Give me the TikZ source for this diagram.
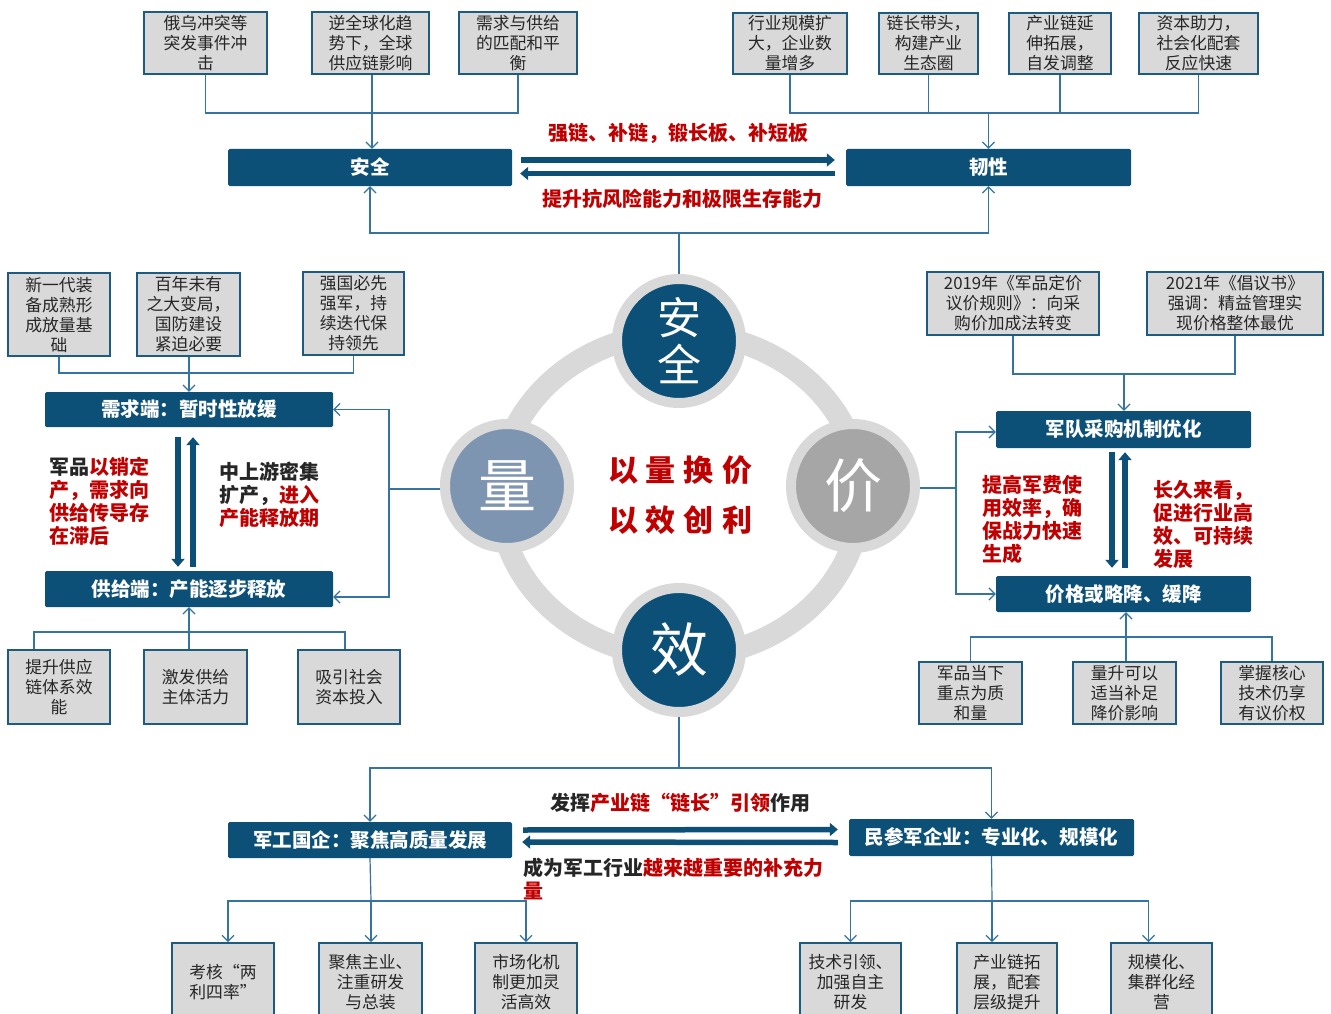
\documentclass[tikz,border=0pt]{standalone}
\usepackage{fontspec}
\setmainfont{Noto Sans CJK SC}
\usetikzlibrary{arrows.meta,calc}
\definecolor{barblue}{HTML}{0C5078}
\definecolor{boxborder}{HTML}{1D5B80}
\definecolor{boxgray}{HTML}{D9D9D9}
\definecolor{linecol}{HTML}{3574A0}
\definecolor{ired}{HTML}{C00000}
\definecolor{textdark}{HTML}{262626}
\definecolor{ringgray}{HTML}{D9D9D9}
\definecolor{liangcol}{HTML}{7E95B1}
\definecolor{jiacol}{HTML}{A6A6A6}
\newcommand{\rd}[1]{\textcolor{ired}{#1}}
\begin{document}
\begin{tikzpicture}[x=1pt,y=-1pt,
  gbox/.style={draw=boxborder, line width=1.8pt, fill=boxgray, text=textdark, align=center, inner sep=0pt, font=\fontsize{16.8}{20}\selectfont},
  bar/.style={fill=barblue, text=white, inner sep=0pt, rounded corners=1.5pt, font=\bfseries\fontsize{19.5}{22}\selectfont},
  conn/.style={draw=linecol, line width=1.2pt},
  arr/.style={-{Straight Barb[length=6pt,width=12pt]}},
  both/.style={{Straight Barb[length=6pt,width=12pt]}-{Straight Barb[length=6pt,width=12pt]}},
  fat/.style={draw=barblue, line width=5.5pt, -{Triangle[length=8pt,width=13pt]}},
  redt/.style={text=ired, font=\bfseries\fontsize{20}{23}\selectfont, inner sep=0pt},
  mixt/.style={text=textdark, font=\bfseries\fontsize{20}{23}\selectfont, inner sep=0pt, align=left},
  bigc/.style={circle, minimum size=124pt, draw=ringgray, line width=10pt, text=white, inner sep=0pt}
]
\useasboundingbox (0,0) rectangle (1331,1014);
\fill[white] (0,0) rectangle (1331,1014);

% ---------- central ring ----------
\draw[ringgray, line width=22pt] (680,495) ellipse [x radius=181pt, y radius=162pt];
\node[bigc, fill=barblue, font=\fontsize{44}{47}\selectfont, align=center] (aqc) at (679,341) {安\\全};
\node[bigc, fill=liangcol, font=\fontsize{58}{60}\selectfont] (lc) at (507,486) {量};
\node[bigc, fill=jiacol, font=\fontsize{58}{60}\selectfont] (jc) at (853,486) {价};
\node[bigc, fill=barblue, font=\fontsize{58}{60}\selectfont] (xc) at (679,650) {效};
\node[text=ired, font=\bfseries\fontsize{30}{50}\selectfont, align=center] (ctr) at (680,495)
  {以\hspace{8pt}量\hspace{8pt}换\hspace{8pt}价\\以\hspace{8pt}效\hspace{8pt}创\hspace{8pt}利};

% ---------- top ----------
\node[gbox, minimum width=123pt, minimum height=62pt] (a1) at (205.5,43) {俄乌冲突等\\突发事件冲\\击};
\node[gbox, minimum width=117pt, minimum height=62pt] (a2) at (370.5,43) {逆全球化趋\\势下，全球\\供应链影响};
\node[gbox, minimum width=118pt, minimum height=62pt] (a3) at (518,43) {需求与供给\\的匹配和平\\衡};
\node[bar, minimum width=284pt, minimum height=37pt] (aq) at (370,167.5) {安全};
\node[bar, minimum width=285pt, minimum height=37pt] (rx) at (988.5,167.5) {韧性};
\node[gbox, minimum width=114pt, minimum height=61pt] (b1) at (790,43.5) {行业规模扩\\大，企业数\\量增多};
\node[gbox, minimum width=99pt, minimum height=61pt] (b2) at (928.5,43.5) {链长带头，\\构建产业\\生态圈};
\node[gbox, minimum width=102pt, minimum height=61pt] (b3) at (1060,43.5) {产业链延\\伸拓展，\\自发调整};
\node[gbox, minimum width=119pt, minimum height=61pt] (b4) at (1198.5,43.5) {资本助力，\\社会化配套\\反应快速};
\node[redt] (t1) at (678,133) {强链、补链，锻长板、补短板};
\node[redt] (t2) at (682,199) {提升抗风险能力和极限生存能力};

\coordinate (ja) at (372,113);
\coordinate (jb) at (988.5,113);
\draw[conn] (a1.south) |- (ja) -| (a3.south);
\draw[conn,arr] (a2.south -| ja) -- (aq.north -| ja);
\draw[conn] (b1.south) |- (jb);
\draw[conn] (b4.south) |- (jb);
\draw[conn] (b2.south) -- (b2.south |- jb);
\draw[conn] (b3.south) -- (b3.south |- jb);
\draw[conn,arr] (jb) -- (rx.north);
\draw[fat] ([shift={(9pt,7.5pt)}]aq.east) -- ([shift={(-11pt,7.5pt)}]rx.west);
\draw[fat] ([shift={(-11pt,-6pt)}]rx.west) -- ([shift={(8pt,-6pt)}]aq.east);
\coordinate (jt) at (679,233);
\draw[conn,both] (aq.south) |- (jt) -| (rx.south);
\draw[conn] (aqc.north) -- (jt);

% ---------- left middle ----------
\node[gbox, minimum width=102pt, minimum height=83pt] (c1) at (59,314.5) {新一代装\\备成熟形\\成放量基\\础};
\node[gbox, minimum width=103pt, minimum height=83pt] (c2) at (188.5,314.5) {百年未有\\之大变局，\\国防建设\\紧迫必要};
\node[gbox, minimum width=101pt, minimum height=83pt] (c3) at (353.5,313.5) {强国必先\\强军，持\\续迭代保\\持领先};
\node[bar, minimum width=288pt, minimum height=35pt] (xq) at (189,409.5) {需求端：暂时性放缓};
\node[bar, minimum width=288pt, minimum height=36pt] (gj) at (189,589) {供给端：产能逐步释放};
\coordinate (jc1) at (189,373);
\draw[conn] (c1.south) |- (jc1) -| (c3.south);
\draw[conn,arr] (c2.south -| jc1) -- (xq.north);
\draw[fat] ([shift={(-11pt,-10pt)}]xq.south) -- ([shift={(-11pt,4pt)}]gj.north);
\draw[fat] ([shift={(4pt,4pt)}]gj.north) -- ([shift={(4pt,-10pt)}]xq.south);
\node[mixt, anchor=west] (lt1) at (49,501) {军品\rd{以销定}\\\rd{产，需求向}\\\rd{供给传导存}\\\rd{在滞后}};
\node[mixt, anchor=west] (lt2) at (219,495) {中上游密集\\扩产，\rd{进入}\\\rd{产能释放期}};
\coordinate (jl) at (389,489);
\draw[conn] (lc.west |- jl) -- (jl);
\draw[conn,arr] (jl) |- (xq.east);
\draw[conn,arr] (jl) |- ([yshift=-8pt]gj.east);
\node[gbox, minimum width=102pt, minimum height=74pt] (d1) at (59,687) {提升供应\\链体系效\\能};
\node[gbox, minimum width=103pt, minimum height=74pt] (d2) at (195.5,687) {激发供给\\主体活力};
\node[gbox, minimum width=102pt, minimum height=74pt] (d3) at (349,687) {吸引社会\\资本投入};
\coordinate (jd1) at (189,632);
\draw[conn] ([xshift=-25pt]d1.north) |- (jd1) -| ([xshift=-4pt]d3.north);
\draw[conn,arr] (d2.north -| jd1) -- (gj.south);

% ---------- right middle ----------
\node[gbox, minimum width=172pt, minimum height=63pt] (e1) at (1013,303.5) {2019年《军品定价\\议价规则》：向采\\购价加成法转变};
\node[gbox, minimum width=176pt, minimum height=63pt] (e2) at (1235,303.5) {2021年《倡议书》\\强调：精益管理实\\现价格整体最优};
\node[bar, minimum width=255pt, minimum height=37pt] (jd) at (1123.5,429.5) {军队采购机制优化};
\node[bar, minimum width=255pt, minimum height=36pt] (jg) at (1123.5,594) {价格或略降、缓降};
\coordinate (je) at (1124,374);
\draw[conn] (e1.south) |- (je) -| (e2.south);
\draw[conn,arr] (je) -- (jd.north -| je);
\draw[fat] ([shift={(-11.5pt,-4pt)}]jd.south) -- ([shift={(-11.5pt,8pt)}]jg.north);
\draw[fat] ([shift={(1.5pt,8pt)}]jg.north) -- ([shift={(1.5pt,-4pt)}]jd.south);
\node[redt, align=left, anchor=west] (rt1) at (982,519) {提高军费使\\用效率，确\\保战力快速\\生成};
\node[redt, align=left, anchor=west] (rt2) at (1153,524) {长久来看，\\促进行业高\\效、可持续\\发展};
\coordinate (jr) at (956,488);
\draw[conn] (jc.east |- jr) -- (jr);
\draw[conn,arr] (jr) |- ([yshift=-2.5pt]jd.west);
\draw[conn,arr] (jr) |- (jg.west);
\node[gbox, minimum width=103pt, minimum height=62pt] (f1) at (970.5,693) {军品当下\\重点为质\\和量};
\node[gbox, minimum width=103pt, minimum height=62pt] (f2) at (1124.5,693) {量升可以\\适当补足\\降价影响};
\node[gbox, minimum width=102pt, minimum height=62pt] (f3) at (1272,693) {掌握核心\\技术仍享\\有议价权};
\coordinate (jf) at (1126,637);
\draw[conn] (f1.north) |- (jf) -| (f3.north);
\draw[conn,arr] (f2.north -| jf) -- (jg.south -| jf);

% ---------- bottom ----------
\node[bar, minimum width=284pt, minimum height=36pt] (jq) at (370,840) {军工国企：聚焦高质量发展};
\node[bar, minimum width=285pt, minimum height=37pt] (mc) at (991.5,837.5) {民参军企业：专业化、规模化};
\coordinate (jx) at (680,768);
\draw[conn] (xc.south) -- (xc.south |- jx);
\draw[conn,arr] (xc.south |- jx) -| (jq.north);
\draw[conn,arr] (xc.south |- jx) -| (mc.north);
\draw[fat] ([shift={(11pt,10pt)}]jq.east) -- ([shift={(-11pt,8pt)}]mc.west);
\draw[fat] ([shift={(-11pt,-5pt)}]mc.west) -- ([shift={(10pt,-2pt)}]jq.east);
\node[mixt] (t3) at (680,803) {发挥\rd{产业链“链长”引领}作用};
\node[mixt, anchor=west] (t4) at (523,878.5) {成为军工行业\rd{越来越重要的补充力}\\\rd{量}};

\node[gbox, minimum width=102pt, minimum height=78pt] (g1) at (223,982) {考核“两\\利四率”};
\node[gbox, minimum width=103pt, minimum height=78pt] (g2) at (370.5,982) {聚焦主业、\\注重研发\\与总装};
\node[gbox, minimum width=102pt, minimum height=78pt] (g3) at (526,982) {市场化机\\制更加灵\\活高效};
\node[gbox, minimum width=101pt, minimum height=78pt] (h1) at (850.5,982) {技术引领、\\加强自主\\研发};
\node[gbox, minimum width=100pt, minimum height=78pt] (h2) at (1007,982) {产业链拓\\展，配套\\层级提升};
\node[gbox, minimum width=101pt, minimum height=78pt] (h3) at (1161.5,982) {规模化、\\集群化经\\营};

\coordinate (jg1) at (371,901);
\draw[conn] (jq.south) -- (jg1);
\draw[conn,arr] (jg1) -| ([xshift=5pt]g1.north);
\draw[conn,arr] (jg1) -| (g3.north);
\draw[conn,arr] (jg1) -- (g2.north -| jg1);
\coordinate (jh1) at (992,901);
\draw[conn] (mc.south) -- (jh1);
\draw[conn,arr] (jh1) -| (h1.north);
\draw[conn,arr] (jh1) -| ([xshift=-13pt]h3.north);
\draw[conn,arr] (jh1) -- (h2.north -| jh1);
\end{tikzpicture}
\end{document}
